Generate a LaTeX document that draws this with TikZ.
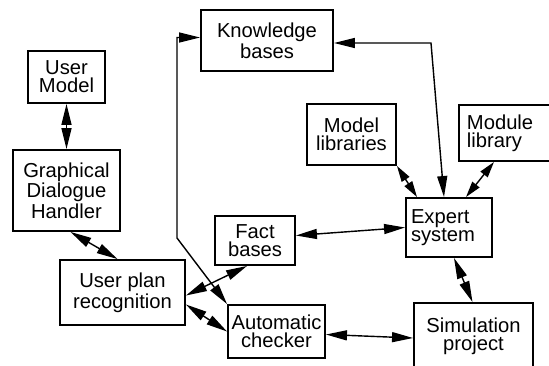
\documentclass[tikz,border=0pt]{standalone}
\usepackage{fontspec}
\setmainfont{Liberation Sans}
\usetikzlibrary{arrows.meta,calc}
\tikzset{
  block/.style={draw, line width=1.1pt, inner sep=2pt, align=center,
    font=\fontsize{11.5}{10.3}\selectfont},
  link/.style={{Triangle[length=0.42cm,width=0.2cm]}-{Triangle[length=0.42cm,width=0.2cm]}, line width=0.8pt},
  shortlink/.style={{Triangle[length=0.32cm,width=0.18cm]}-{Triangle[length=0.32cm,width=0.18cm]}, line width=0.8pt},
}
\begin{document}
\begin{tikzpicture}[x=0.02cm, y=-0.02cm]
        \useasboundingbox (0,0) rectangle (549,366);
        % boxes
        \node[block, minimum width=1.54cm, minimum height=1.04cm] (usermodel) at (66.5, 77) {User\\Model};
        \node[block, minimum width=2.14cm, minimum height=1.62cm] (dialogue) at (66.5, 190.5) {Graphical\\Dialogue\\Handler};
        \node[block, minimum width=2.64cm, minimum height=1.22cm] (knowledge) at (267, 40.5) {Knowledge\\bases};
        \node[block, minimum width=1.78cm, minimum height=1.22cm] (modellib) at (351.5, 134.5) {Model\\libraries};
        \node[block, anchor=west, text width=1.8cm, inner xsep=0.16cm, align=left, minimum height=1.12cm] (modulelib) at (458, 133) {Module\\library};
        \node[block, text width=1.52cm, inner xsep=0.1cm, align=left, minimum height=1.18cm] (expert) at (449, 227.5) {Expert\\system};
        \node[block, minimum width=2.38cm, minimum height=1.34cm] (simulation) at (473.5, 336.5) {Simulation\\project};
        \node[block, minimum width=1.94cm, minimum height=1.06cm] (checker) at (276.5, 331.5) {Automatic\\checker};
        \node[block, minimum width=1.6cm, minimum height=0.98cm] (fact) at (255, 240.5) {Fact\\bases};
        \node[block, minimum width=2.5cm, minimum height=1.3cm] (userplan) at (122.5, 292.5) {User plan\\recognition};
        % bends
        \coordinate (kbbend) at (177, 238);
        \coordinate (kbturn) at (431, 43);
        % connectors
        \draw[link] (usermodel) -- (dialogue);
        \draw[link] ($(dialogue.south)+(4,0)$) -- ($(userplan.north)+(-5,0)$);
        \draw[link] ($(userplan.east)+(0,3)$) -- ($(fact.south)+(-8,0)$);
        \draw[link] ($(userplan.east)+(0,12)$) -- (checker.west);
        \draw[link] ($(knowledge.west)+(0,-3)$) -| (kbbend) -- (checker.north west);
        \draw[link] ($(knowledge.east)+(0,2.5)$) -- (kbturn) -- ($(expert.north)+(-5,0)$);
        \draw[shortlink] (modellib.south east) -- ($(expert.north)+(-32,0)$);
        \draw[shortlink] ($(modulelib.south west)+(36,0)$) -- ($(expert.north)+(17,0)$);
        \draw[link] ($(fact.east)+(0,-5)$) -- (expert.west);
        \draw[link] ($(expert.south)+(5,0)$) -- ($(simulation.north)+(-1,0)$);
        \draw[link] ($(checker.east)+(0,3)$) -- ($(simulation.west)+(0,1.5)$);
\end{tikzpicture}
\end{document}
